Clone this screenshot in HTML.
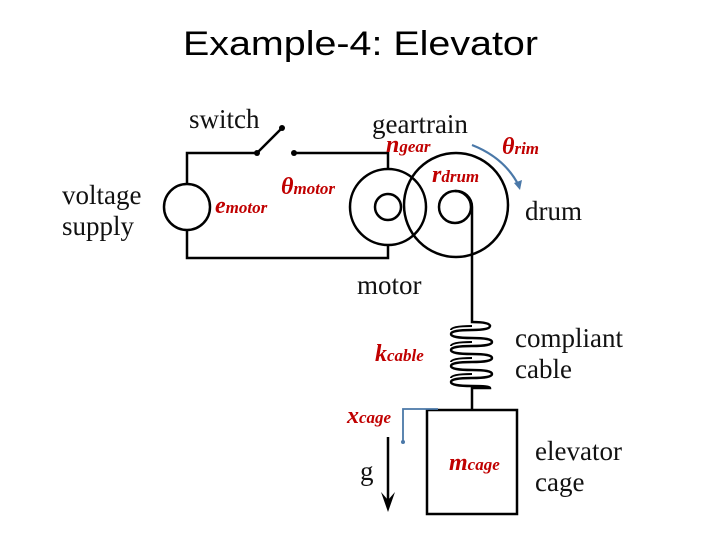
<!DOCTYPE html>
<html><head><meta charset="utf-8"><style>
body{margin:0;background:#fff;}
svg{display:block;}
.t{font-family:"Liberation Serif",serif;font-size:27px;fill:#111;}
.r{font-family:"Liberation Serif",serif;font-weight:bold;font-style:italic;fill:#c00000;font-size:24px;}
.s{font-size:17px;}
</style></head><body>
<svg width="720" height="540" viewBox="0 0 720 540">
<text x="183" y="55" font-family="Liberation Sans, sans-serif" font-size="34" textLength="355" lengthAdjust="spacingAndGlyphs" fill="#000">Example-4: Elevator</text>
<g fill="none" stroke="#000" stroke-width="2.5">
<polyline points="257,153 187,153 187,184"/>
<polyline points="187,230 187,258 388,258 388,246"/>
<polyline points="294,153 388,153 388,169"/>
<line x1="257" y1="153" x2="282" y2="128"/>
<circle cx="187" cy="207" r="23"/>
<circle cx="388" cy="207" r="38"/>
<circle cx="388" cy="207" r="13"/>
<circle cx="456" cy="205" r="52"/>
<circle cx="455" cy="207" r="16"/>
<path d="M455,191 A16,16 0 0 1 472,207 L472,321"/>
<path d="M472,321 L472,322 Q490,322 490,326 Q490,330 472,330 Q451,330 451,334 Q451,338 472,338 Q492,338 492,342 Q492,346 472,346 Q451,346 451,350 Q451,354 472,354 Q492,354 492,358 Q492,362 472,362 Q451,362 451,366 Q451,370 472,370 Q492,370 492,374 Q492,378 472,378 Q451,378 451,382 Q451,386 472,386 Q490,386 490,388 L472,388 L472,410"/>
<path d="M451,330 Q451,326 472,326 M451,346 Q451,342 472,342 M451,362 Q451,358 472,358 M451,378 Q451,374 472,374" stroke-width="2"/>
<rect x="427" y="410" width="90" height="104"/>
<line x1="388" y1="437" x2="388" y2="505"/>
</g>
<circle cx="257" cy="153" r="3"/><circle cx="282" cy="128" r="3"/><circle cx="294" cy="153" r="3"/>
<path d="M381,492 L388,512 L395,492 L388,500 Z"/>
<path d="M472,145 Q505,158 519,186" fill="none" stroke="#4a78a8" stroke-width="2.2"/>
<path d="M514,183 L520,190 L522,180 Z" fill="#4a78a8"/>
<polyline points="438,409 403,409 403,441" fill="none" stroke="#4a78a8" stroke-width="1.8"/>
<circle cx="403" cy="442" r="2" fill="#4a78a8"/>
<text class="t" x="189" y="128">switch</text>
<text class="t" x="372" y="133">geartrain</text>
<text class="t" x="62" y="204">voltage</text>
<text class="t" x="62" y="235">supply</text>
<text class="t" x="525" y="220">drum</text>
<text class="t" x="357" y="294">motor</text>
<text class="t" x="515" y="347">compliant</text>
<text class="t" x="515" y="378">cable</text>
<text class="t" x="535" y="460">elevator</text>
<text class="t" x="535" y="491">cage</text>
<text class="t" x="360" y="480">g</text>
<text class="r" x="215" y="213">e<tspan class="s">motor</tspan></text>
<text class="r" x="281" y="194">θ<tspan class="s">motor</tspan></text>
<text class="r" x="386" y="152">n<tspan class="s">gear</tspan></text>
<text class="r" x="432" y="182">r<tspan class="s">drum</tspan></text>
<text class="r" x="502" y="154">θ<tspan class="s">rim</tspan></text>
<text class="r" x="375" y="361">k<tspan class="s">cable</tspan></text>
<text class="r" x="347" y="423">x<tspan class="s">cage</tspan></text>
<text class="r" x="449" y="470">m<tspan class="s">cage</tspan></text>
</svg>
</body></html>
